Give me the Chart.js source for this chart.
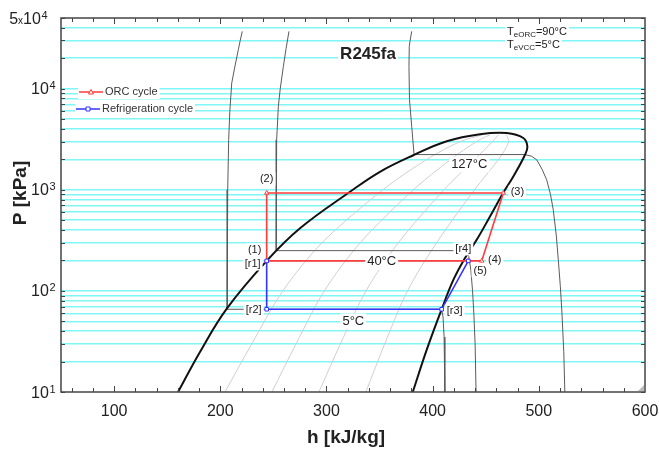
<!DOCTYPE html>
<html>
<head>
<meta charset="utf-8">
<script src="https://cdn.jsdelivr.net/npm/chart.js@4.4.0/dist/chart.umd.min.js"></script>
<style>
html, body { margin: 0; padding: 0; background: #fff; }
#wrap { width: 659px; height: 449px; }
</style>
</head>
<body>
<div id="wrap"><canvas id="ph-chart" width="659" height="449"></canvas></div>
<script>
// axis ticks
const hTicks = [100, 200, 300, 400, 500, 600];
const pTicks = [10, 100, 1000, 10000, 50000];

// saturation dome: liquid side up, over the top, down the vapour side
const domeH = [160.2, 180.9, 206.3, 243.7, 275.1, 322.2, 350.4, 381.8, 413.3, 444.6, 469.8, 485.4, 489.2, 487.0, 476.0, 466.6, 454.0, 441.5, 429.5, 419.5, 408.5, 394.4, 381.3];
const domeP = [10, 24.9, 67.1, 198, 416, 955, 1507, 2197, 3020, 3544, 3638, 3251, 2685, 2222, 1355, 940, 544, 320, 203, 128.5, 65.8, 26.1, 10];

// quality lines x = 0.2 .. 0.8
const qualityP = [10, 30, 100, 300, 1000, 2000, 3000, 3500];
const q02H = [204.4, 229.7, 258.9, 295.9, 353.2, 394.6, 426.0, 447.0];
const q04H = [248.6, 271.4, 298.0, 331.9, 381.9, 417.1, 441.3, 454.0];
const q06H = [292.9, 313.2, 337.2, 367.8, 410.7, 439.6, 456.5, 462.0];
const q08H = [337.1, 354.9, 376.3, 403.8, 439.4, 462.1, 471.8, 469.0];

// isotherms 5, 40 and 127 °C
const iso5H = [220.7, 218.8, 217.0, 213.5, 210.8, 209.0, 207.9, 207.0, 206.5, 408.5, 409.8, 410.8, 411.4, 411.6];
const iso5P = [36900, 30000, 24300, 16000, 11380, 6000, 3126, 1000, 65.8, 65.8, 55, 35, 20, 10];
const iso40H = [264.7, 262.0, 259.4, 256.5, 254.7, 253.1, 252.8, 252.6, 431.4, 434.0, 436.0, 437.6, 438.8, 440.0, 440.9];
const iso40P = [36900, 25000, 16600, 10000, 6680, 3126, 1000, 250, 250, 220, 160, 100, 60, 30, 10];
const iso127H = [380.3, 378.8, 378.0, 377.7, 378.2, 380.3, 382.5, 487.0, 493.0, 498.0, 503.0, 507.4, 511.0, 513.6, 516.5, 518.4, 520.3, 521.8, 523.5, 524.5];
const iso127P = [36900, 30000, 26200, 16600, 7780, 4240, 2230, 2230, 2150, 1982, 1600, 1256, 900, 634, 350, 200, 110, 60, 25, 10];

// ORC cycle 1-2-3-4-5-1
const orcH = [243.7, 243.7, 466.6, 446.2, 433.6, 243.7];
const orcP = [198, 930, 930, 198, 198, 198];
// refrigeration cycle r1-r2-r3-r4
const vccH = [243.7, 243.7, 408.5, 433.6];
const vccP = [198, 65.8, 65.8, 198];

const FONT = 'Arial, "Liberation Sans", Helvetica, sans-serif';
const RED = '#ff3b3b';
const BLUE = '#3434ff';

function xy(hs, ps) {
    return hs.map((h, i) => ({ x: h, y: ps[i] }));
}

function curve(label, hs, ps, color, width, order, tension) {
    return {
        label, data: xy(hs, ps),
        borderColor: color, borderWidth: width,
        pointRadius: 0, tension: tension || 0, order
    };
}

// text with a white box behind it, as the plot software does
function boxedText(ctx, text, x, y, size, align, bold) {
    ctx.font = (bold ? 'bold ' : '') + size + 'px ' + FONT;
    ctx.textAlign = align;
    ctx.textBaseline = 'middle';
    const w = ctx.measureText(text).width;
    const left = align === 'left' ? x : align === 'right' ? x - w : x - w / 2;
    ctx.fillStyle = '#fff';
    ctx.fillRect(left - 2, y - size * 0.6, w + 4, size * 1.2);
    ctx.fillStyle = '#222';
    ctx.fillText(text, x, y);
}

const cycleNotes = [
    { text: '(1)', h: orcH[0], p: orcP[0], dx: -12, dy: -11 },
    { text: '(2)', h: orcH[1], p: orcP[1], dx: 0, dy: -14 },
    { text: '(3)', h: orcH[2], p: orcP[2], dx: 14, dy: -1 },
    { text: '(4)', h: orcH[3], p: orcP[3], dx: 13, dy: -1 },
    { text: '(5)', h: orcH[4], p: orcP[4], dx: 12, dy: 10 },
    { text: '[r1]', h: vccH[0], p: vccP[0], dx: -14, dy: 3 },
    { text: '[r2]', h: vccH[1], p: vccP[1], dx: -13, dy: 1 },
    { text: '[r3]', h: vccH[2], p: vccP[2], dx: 13, dy: 2 },
    { text: '[r4]', h: vccH[3], p: vccP[3], dx: -5, dy: -12 }
];
const tempNotes = [
    { text: '40°C', h: 352, p: 198, dy: 1, size: 13 },
    { text: '5°C', h: 325.3, p: 65.8, dy: 12, size: 13 },
    { text: '127°C', h: 434.5, p: 2230, dy: 10, size: 13 }
];

const decorPlugin = {
    id: 'decor',
    afterDatasetsDraw(chart) {
        const { ctx, chartArea: a, scales: { x, y } } = chart;
        ctx.save();

        // temperatures and state points
        tempNotes.forEach(n => boxedText(ctx, n.text, x.getPixelForValue(n.h), y.getPixelForValue(n.p) + n.dy, n.size, 'center'));
        cycleNotes.forEach(n => boxedText(ctx, n.text, x.getPixelForValue(n.h) + n.dx, y.getPixelForValue(n.p) + n.dy, 11, 'center'));

        // title and conditions
        boxedText(ctx, 'R245fa', 368, 54, 17, 'center', true);
        [['eORC', '=90°C', 31], ['eVCC', '=5°C', 44]].forEach(([sub, rest, ty]) => {
            ctx.font = '11px ' + FONT;
            const wT = ctx.measureText('T').width;
            const wR = ctx.measureText(rest).width;
            ctx.font = '8px ' + FONT;
            const wS = ctx.measureText(sub).width;
            ctx.fillStyle = '#fff';
            ctx.fillRect(505, ty - 7, wT + wS + wR + 4, 14);
            ctx.fillStyle = '#222';
            ctx.textAlign = 'left';
            ctx.textBaseline = 'alphabetic';
            ctx.font = '11px ' + FONT;
            ctx.fillText('T', 507, ty + 4);
            ctx.font = '8px ' + FONT;
            ctx.fillText(sub, 507 + wT, ty + 6);
            ctx.font = '11px ' + FONT;
            ctx.fillText(rest, 507 + wT + wS, ty + 4);
        });

        // legend drawn inside the plot
        chart.data.datasets.filter(d => d.legendRow).forEach(d => {
            const r = d.legendRow;
            ctx.font = '11px ' + FONT;
            const w = ctx.measureText(d.label).width;
            ctx.fillStyle = '#fff';
            ctx.fillRect(r.x0 - 1, r.y - 7, r.x1 - r.x0 + w + 5, 14);
            ctx.strokeStyle = d.borderColor;
            ctx.lineWidth = 1.5;
            ctx.beginPath();
            ctx.moveTo(r.x0, r.y);
            ctx.lineTo(r.x1, r.y);
            ctx.stroke();
            const mx = (r.x0 + r.x1) / 2;
            ctx.fillStyle = '#fff';
            ctx.lineWidth = 1;
            ctx.beginPath();
            if (d.pointStyle === 'triangle') {
                ctx.moveTo(mx, r.y - 2.5); ctx.lineTo(mx + 2.5, r.y + 2); ctx.lineTo(mx - 2.5, r.y + 2); ctx.closePath();
            } else {
                ctx.rect(mx - 2, r.y - 2, 4, 4);
            }
            ctx.fill(); ctx.stroke();
            ctx.fillStyle = '#333';
            ctx.textAlign = 'left';
            ctx.textBaseline = 'middle';
            ctx.fillText(d.label, r.x1 + 2, r.y);
        });

        // frame and inward ticks
        ctx.strokeStyle = '#444';
        ctx.lineWidth = 1.5;
        ctx.strokeRect(a.left, a.top, a.right - a.left, a.bottom - a.top);
        ctx.lineWidth = 1;
        ctx.beginPath();
        for (let h = 60; h < 600; h += 20) {
            const px = Math.round(x.getPixelForValue(h)) + 0.5;
            const len = h % 100 === 0 ? 6 : 4;
            ctx.moveTo(px, a.bottom); ctx.lineTo(px, a.bottom - len);
            ctx.moveTo(px, a.top); ctx.lineTo(px, a.top + len);
        }
        y.ticks.forEach(t => {
            const py = Math.round(y.getPixelForValue(t.value)) + 0.5;
            ctx.moveTo(a.left, py); ctx.lineTo(a.left + 4, py);
            ctx.moveTo(a.right, py); ctx.lineTo(a.right - 4, py);
        });
        ctx.stroke();

        // resize grip in the corner
        ctx.fillStyle = '#bbb';
        ctx.beginPath();
        ctx.moveTo(a.right - 1, a.bottom - 7); ctx.lineTo(a.right - 1, a.bottom - 1); ctx.lineTo(a.right - 7, a.bottom - 1);
        ctx.closePath(); ctx.fill();

        // tick labels
        ctx.fillStyle = '#222';
        ctx.font = '16px ' + FONT;
        ctx.textAlign = 'center';
        ctx.textBaseline = 'alphabetic';
        hTicks.forEach(h => ctx.fillText(String(h), x.getPixelForValue(h), 416));

        pTicks.forEach(p => {
            const e = Math.floor(Math.log10(p) + 1e-9);
            const m = Math.round(p / Math.pow(10, e));
            const py = y.getPixelForValue(p);
            let right = m === 1 ? 55.5 : 47.5;
            ctx.textAlign = 'right';
            ctx.font = '11px ' + FONT;
            ctx.fillText(String(e), right, py + 0.5);
            right -= ctx.measureText(String(e)).width + 0.5;
            ctx.font = '16px ' + FONT;
            ctx.fillText('10', right, py + 5.5);
            if (m !== 1) {
                right -= ctx.measureText('10').width;
                ctx.font = '10px ' + FONT;
                ctx.fillText('x', right, py + 5.5);
                right -= ctx.measureText('x').width;
                ctx.font = '16px ' + FONT;
                ctx.fillText(String(m), right, py + 5.5);
            }
        });

        // axis titles
        ctx.font = 'bold 19px ' + FONT;
        ctx.textAlign = 'center';
        ctx.fillText('h [kJ/kg]', 346, 443);
        ctx.translate(26, 193);
        ctx.rotate(-Math.PI / 2);
        ctx.fillText('P [kPa]', 0, 0);

        ctx.restore();
    }
};

const datasets = [
    Object.assign(curve('Refrigeration cycle', vccH, vccP, BLUE, 1.6, 0), {
        pointRadius: 2.5, pointStyle: 'rect', pointBackgroundColor: '#fff',
        pointBorderColor: BLUE, pointBorderWidth: 1,
        legendRow: { x0: 76, x1: 100, y: 109 }
    }),
    Object.assign(curve('ORC cycle', orcH, orcP, RED, 1.6, 1), {
        pointRadius: 2.5, pointStyle: 'triangle', pointBackgroundColor: '#fff',
        pointBorderColor: RED, pointBorderWidth: 1,
        legendRow: { x0: 79, x1: 103, y: 92 }
    }),
    curve('dome', domeH, domeP, '#111', 2, 2, 0.4),
    curve('T=5', iso5H, iso5P, '#5a5a5a', 1, 3, 0),
    curve('T=40', iso40H, iso40P, '#5a5a5a', 1, 3, 0),
    curve('T=127', iso127H, iso127P, '#5a5a5a', 1, 3, 0),
    curve('x=0.2', q02H, qualityP, '#cfcfcf', 1, 4, 0.3),
    curve('x=0.4', q04H, qualityP, '#cfcfcf', 1, 4, 0.3),
    curve('x=0.6', q06H, qualityP, '#cfcfcf', 1, 4, 0.3),
    curve('x=0.8', q08H, qualityP, '#cfcfcf', 1, 4, 0.3)
];

new Chart(document.getElementById('ph-chart'), {
    type: 'line',
    data: { datasets },
    options: {
        responsive: false,
        animation: false,
        events: [],
        layout: { padding: { left: 61, right: 14, top: 18, bottom: 57 } },
        scales: {
            x: { type: 'linear', min: 50, max: 600, display: false },
            y: {
                type: 'logarithmic', min: 10, max: 50000,
                afterBuildTicks: axis => {
                    const vals = [];
                    [10, 100, 1000, 10000].forEach(d => {
                        for (let m = 1; m <= 9; m++) if (m * d <= 50000) vals.push(m * d);
                    });
                    axis.ticks = vals.map(v => ({ value: v }));
                },
                ticks: { display: false },
                border: { display: false },
                grid: {
                    drawTicks: false,
                    lineWidth: 1.5,
                    color: c => (c.tick && (c.tick.value === 10 || c.tick.value === 50000)) ? 'rgba(0,0,0,0)' : '#80f6f6'
                }
            }
        },
        plugins: {
            legend: { display: false },
            tooltip: { enabled: false }
        }
    },
    plugins: [decorPlugin]
});
</script>
</body>
</html>
